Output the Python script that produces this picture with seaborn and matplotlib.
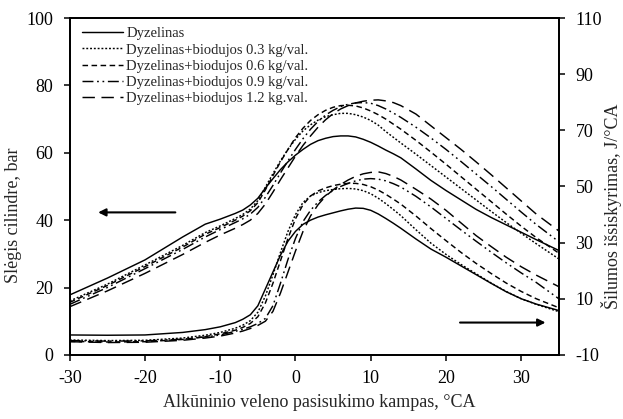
import numpy as np
import pandas as pd
import matplotlib
matplotlib.use("Agg")
import matplotlib.pyplot as plt
import seaborn as sns

# crank angle, deg CA
angle = [-30, -25, -20, -15, -12, -10, -8, -7, -6, -5, -4, -3, -2, -1, 0, 1, 2, 3, 4, 5,
         6, 7, 8, 9, 10, 11, 12, 13, 14, 16, 18, 20, 22, 24, 26, 28, 30, 32, 35]

series_names = ["Dyzelinas",
                "Dyzelinas+biodujos 0.3 kg/val.",
                "Dyzelinas+biodujos 0.6 kg/val.",
                "Dyzelinas+biodujos 0.9 kg/val.",
                "Dyzelinas+biodujos 1.2 kg.val."]

# cylinder pressure, bar (left axis)
p_d = [17.8, 22.8, 28.2, 35.0, 38.8, 40.3, 42.0, 43.0, 44.5, 46.5, 49.5, 52.3, 55.0, 57.3, 59.3, 61.0, 62.5, 63.6, 64.3, 64.8,
       65.0, 65.0, 64.7, 64.0, 63.1, 62.0, 60.8, 59.7, 58.5, 55.2, 51.8, 48.8, 46.0, 43.2, 40.8, 38.6, 36.4, 34.2, 31.0]
p_03 = [16.0, 21.0, 26.7, 32.5, 36.3, 38.3, 40.5, 41.7, 43.3, 45.8, 49.8, 53.8, 57.6, 61.0, 64.0, 66.5, 68.3, 69.7, 70.7, 71.3,
        71.7, 71.7, 71.3, 70.6, 69.6, 68.2, 66.3, 64.6, 62.9, 59.6, 56.2, 52.8, 49.4, 46.0, 42.6, 39.3, 36.1, 33.0, 28.5]
p_06 = [15.6, 20.6, 26.2, 32.0, 35.8, 37.8, 40.0, 41.2, 42.8, 45.2, 49.0, 53.2, 57.3, 61.0, 64.5, 67.3, 69.6, 71.3, 72.6, 73.5,
        74.0, 74.1, 73.9, 73.3, 72.4, 71.3, 70.0, 68.5, 67.0, 63.7, 60.2, 56.6, 52.9, 49.2, 45.5, 41.8, 38.2, 34.8, 30.2]
p_09 = [15.0, 20.0, 25.6, 31.3, 35.0, 37.2, 39.3, 40.4, 41.8, 43.8, 46.8, 50.3, 54.0, 57.6, 61.0, 64.2, 67.0, 69.3, 71.2, 72.6,
        73.7, 74.4, 74.8, 74.9, 74.7, 74.0, 73.0, 71.8, 70.5, 67.6, 64.4, 61.0, 57.4, 53.7, 50.0, 46.2, 42.4, 38.7, 33.6]
p_12 = [14.3, 19.0, 24.2, 29.8, 33.4, 35.6, 37.6, 38.7, 40.0, 42.0, 44.8, 48.3, 52.0, 55.5, 59.0, 62.2, 65.0, 67.6, 69.8, 71.6,
        73.0, 74.0, 74.8, 75.3, 75.6, 75.7, 75.4, 74.9, 74.0, 71.5, 68.0, 64.5, 61.0, 57.3, 53.5, 49.6, 45.7, 41.8, 36.8]

# heat release rate, J/deg CA (right axis)
q_d = [-2.9, -3.0, -2.9, -2.0, -1.0, 0.0, 1.5, 2.7, 4.3, 7.5, 13.5, 19.5, 25.5, 30.5, 34.0, 36.5, 38.0, 39.1, 39.9, 40.6,
       41.3, 41.9, 42.3, 42.2, 41.5, 40.2, 38.6, 36.9, 35.1, 31.3, 27.7, 24.8, 21.7, 18.6, 15.5, 12.5, 10.0, 8.1, 5.8]
q_03 = [-4.7, -4.9, -4.8, -4.0, -3.0, -2.0, -0.5, 0.6, 2.2, 5.2, 11.0, 18.5, 26.5, 34.0, 40.0, 44.3, 46.6, 47.8, 48.5, 48.9,
        49.2, 49.3, 49.1, 48.5, 47.4, 45.8, 43.9, 41.8, 39.6, 34.6, 29.8, 25.8, 22.2, 18.9, 15.6, 12.6, 10.0, 8.0, 5.4]
q_06 = [-5.2, -5.4, -5.3, -4.5, -3.5, -2.5, -1.2, -0.2, 1.2, 3.6, 8.5, 15.5, 23.5, 31.5, 38.5, 43.5, 46.6, 48.4, 49.5, 50.3,
        50.8, 51.1, 51.1, 50.7, 49.9, 48.7, 47.2, 45.5, 43.7, 39.5, 35.0, 30.7, 26.5, 22.6, 19.0, 15.6, 12.6, 10.0, 6.8]
q_09 = [-4.9, -5.1, -5.0, -4.4, -3.6, -2.9, -1.6, -0.9, 0.0, 1.2, 3.0, 7.5, 15.5, 24.0, 31.5, 37.5, 41.5, 44.5, 46.8, 48.6,
        50.0, 51.1, 52.0, 52.6, 52.8, 52.6, 52.0, 51.0, 49.8, 46.5, 42.7, 38.6, 34.5, 30.5, 26.6, 22.8, 19.2, 15.8, 10.0]
q_12 = [-5.3, -5.6, -5.5, -4.8, -4.0, -3.3, -2.2, -1.5, -0.6, 0.5, 2.0, 5.5, 12.0, 19.5, 27.0, 34.0, 39.5, 43.5, 46.5, 48.8,
        50.7, 52.3, 53.6, 54.5, 55.0, 55.2, 54.6, 53.6, 52.3, 49.0, 45.5, 41.5, 37.0, 32.5, 28.6, 24.8, 21.4, 18.4, 14.3]

pressure = [p_d, p_03, p_06, p_09, p_12]
heat = [q_d, q_03, q_06, q_09, q_12]

sns.set_theme(style="ticks")
plt.rcParams["font.family"] = ["Liberation Serif", "DejaVu Serif"]
plt.rcParams["axes.unicode_minus"] = False

styles = ["-", (0, (1.3, 1.3)), (0, (3.8, 2.4)), (0, (7.5, 2.5, 1.2, 2.5, 1.2, 2.5)), (0, (8.5, 4.5))]
lw = 1.05

fig = plt.figure(figsize=(6.23, 4.19), dpi=100)
ax = fig.add_axes([0.112, 0.153, 0.785, 0.804])
ax2 = ax.twinx()

for name, vals, ls in zip(series_names, pressure, styles):
    df = pd.DataFrame({"x": angle, "y": vals})
    sns.lineplot(data=df, x="x", y="y", ax=ax, color="black", linewidth=lw,
                 linestyle=ls, label=name, estimator=None, sort=False)
for name, vals, ls in zip(series_names, heat, styles):
    df = pd.DataFrame({"x": angle, "y": vals})
    sns.lineplot(data=df, x="x", y="y", ax=ax2, color="black", linewidth=lw,
                 linestyle=ls, estimator=None, sort=False, legend=False)

ax.set_xlim(-30, 35)
ax.set_ylim(0, 100)
ax.set_xticks([-30, -20, -10, 0, 10, 20, 30])
ax.set_yticks([0, 20, 40, 60, 80, 100])
ax2.set_ylim(-10, 110)
ax2.set_yticks([-10, 10, 30, 50, 70, 90, 110])

ax.set_xlabel("Alkūninio veleno pasisukimo kampas, °CA", fontsize=13)
ax.set_ylabel("Slėgis cilindre, bar", fontsize=13)
ax2.set_ylabel("Šilumos išsiskyrimas, J/°CA", fontsize=13)
ax.xaxis.set_label_coords(0.51, -0.116)
ax.yaxis.set_label_coords(-0.097, 0.415)
ax2.yaxis.set_label_coords(1.086, 0.44)

for a in (ax, ax2):
    a.tick_params(axis="both", labelsize=13, direction="out", length=4, width=1.1, colors="black")
    a.tick_params(axis="y", pad=8)
    a.tick_params(axis="x", pad=7)
    for s in a.spines.values():
        s.set_visible(True)
        s.set_color("black")
        s.set_linewidth(1.3)

leg = ax.legend(loc="upper left", frameon=False, fontsize=10.5, handlelength=2.8,
                handletextpad=0.2, labelspacing=0.2, borderaxespad=0.0,
                bbox_to_anchor=(0.014, 0.99))

# direction arrows
ax.annotate("", xy=(-26.6, 42.3), xytext=(-15.6, 42.3),
            arrowprops=dict(arrowstyle="-|>", color="black", lw=1.5, mutation_scale=11))
ax.annotate("", xy=(33.6, 9.6), xytext=(21.5, 9.6),
            arrowprops=dict(arrowstyle="-|>", color="black", lw=1.5, mutation_scale=11))

fig.savefig("out.png", dpi=100)
